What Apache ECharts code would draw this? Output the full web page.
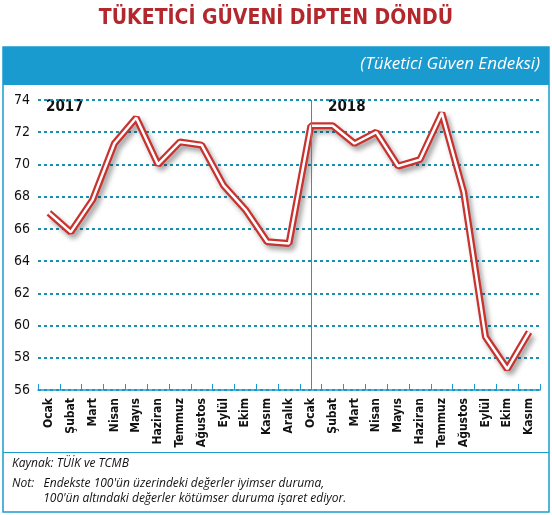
<!DOCTYPE html>
<html><head><meta charset="utf-8">
<script src="https://cdn.jsdelivr.net/npm/echarts@6/dist/echarts.min.js"></script>
<style>body{margin:0;background:#fff}#c{width:552px;height:515px}</style>
</head><body><div id="c"></div>
<script>
const months = ['Ocak','Şubat','Mart','Nisan','Mayıs','Haziran','Temmuz','Ağustos','Eylül','Ekim','Kasım','Aralık',
  'Ocak ','Şubat ','Mart ','Nisan ','Mayıs ','Haziran ','Temmuz ','Ağustos ','Eylül ','Ekim ','Kasım '];
const values = [67.0,65.8,67.8,71.3,72.9,70.0,71.4,71.2,68.7,67.2,65.2,65.1,
  72.4,72.4,71.3,72.0,69.9,70.3,73.2,68.3,59.3,57.3,59.6];
const yTicks = [56,74,2];
const blue = '#1a9bd0';
const chart = echarts.init(document.getElementById('c'));
chart.setOption({
  animation:false,
  graphic:[
    {type:'text',left:'center',top:8,style:{text:'TÜKETİCİ GÜVENİ DİPTEN DÖNDÜ',fill:'#b3282d',font:'bold 21px "DejaVu Sans Condensed", "Liberation Sans Narrow", sans-serif'}},
    {type:'rect',shape:{x:3,y:47,width:546,height:465},style:{fill:'none',stroke:blue,lineWidth:1.5}},
    {type:'rect',shape:{x:3,y:47,width:546,height:38},style:{fill:blue}},
    {type:'text',right:12,top:56,style:{text:'(Tüketici Güven Endeksi)',fill:'#fff',font:'italic 17px "Open Sans", sans-serif'}},
    {type:'text',left:46,top:100,style:{text:'2017',fill:'#111',font:'bold 15px "DejaVu Sans Condensed", sans-serif'}},
    {type:'text',left:328,top:100,style:{text:'2018',fill:'#111',font:'bold 15px "DejaVu Sans Condensed", sans-serif'}},
    {type:'rect',shape:{x:3,y:452,width:546,height:1},style:{fill:blue}},
    {type:'text',left:12,top:458,style:{text:'Kaynak: TÜİK ve TCMB',fill:'#111',font:'italic 12px "Open Sans", sans-serif'}},
    {type:'text',left:12,top:476,style:{text:'Not:   Endekste 100\'ün üzerindeki değerler iyimser duruma,\n          100\'ün altındaki değerler kötümser duruma işaret ediyor.',fill:'#111',lineHeight:15,font:'italic 12px "Open Sans", sans-serif'}}
  ],
  grid:{left:38,right:12,top:100,bottom:125},
  xAxis:{type:'category',data:months,boundaryGap:true,
    axisLine:{lineStyle:{color:blue,width:1.5}},
    axisTick:{show:true,interval:0,lineStyle:{color:blue},length:-6},
    axisLabel:{rotate:90,interval:0,color:'#111',fontSize:12,fontFamily:'"DejaVu Sans Condensed", sans-serif',fontWeight:'bold',formatter:v=>v.trim()}},
  yAxis:{type:'value',min:yTicks[0],max:yTicks[1],interval:yTicks[2],
    axisLabel:{color:'#111',fontSize:14,fontFamily:'"DejaVu Sans Condensed", sans-serif',margin:8},
    axisLine:{show:false},axisTick:{show:false},
    splitLine:{lineStyle:{color:'#1b8fb0',type:[3,3],width:2}}},
  series:[
    {type:'line',data:values,symbol:'none',lineStyle:{color:'#c8322f',width:7,shadowColor:'rgba(0,0,0,0.35)',shadowBlur:5,shadowOffsetX:3,shadowOffsetY:4},
      markLine:{silent:true,symbol:'none',label:{show:false},lineStyle:{color:blue,width:1,type:'solid'},data:[{xAxis:11.5}]}},
    {type:'line',data:values,symbol:'none',lineStyle:{color:'#fff',width:2.5}}
  ]
});
</script></body></html>
